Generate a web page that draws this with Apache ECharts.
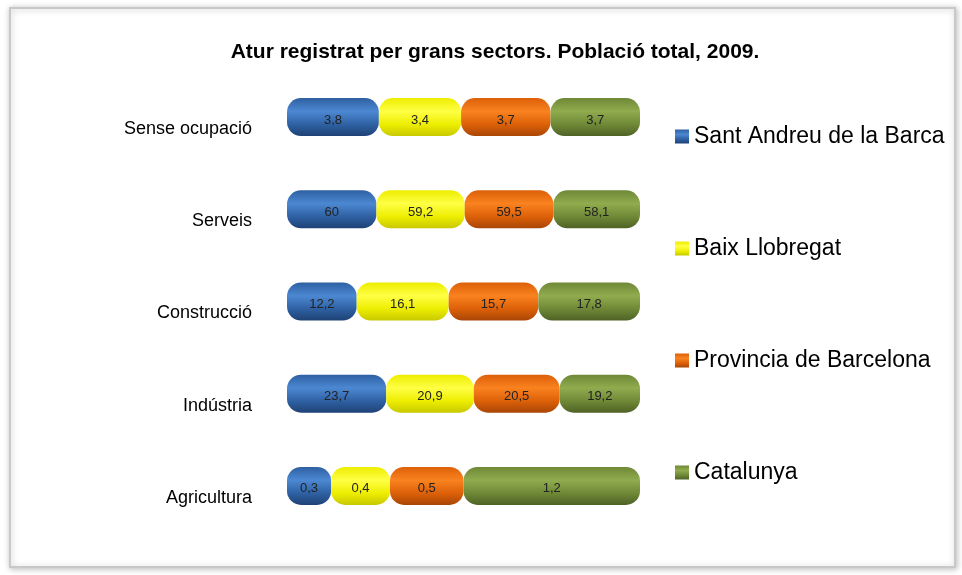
<!DOCTYPE html>
<html>
<head>
<meta charset="utf-8">
<title>Atur registrat per grans sectors</title>
<script src="https://cdn.jsdelivr.net/npm/echarts@6/dist/echarts.min.js"></script>
<style>
  html, body { margin: 0; padding: 0; background: #ffffff; }
  #chart { width: 962px; height: 575px; }
</style>
</head>
<body>
<div id="chart"></div>
<script>
  // categories, bottom to top as drawn
  var sectors = ['Agricultura', 'Indústria', 'Construcció', 'Serveis', 'Sense ocupació']
  var zones = ['Sant Andreu de la Barca', 'Baix Llobregat', 'Provincia de Barcelona', 'Catalunya']

  // % of registered unemployment per sector (values as in the picture)
  var santAndreu = [0.3, 23.7, 12.2, 60, 3.8]
  var baixLlobregat = [0.4, 20.9, 16.1, 59.2, 3.4]
  var provincia = [0.5, 20.5, 15.7, 59.5, 3.7]
  var catalunya = [1.2, 19.2, 17.8, 58.1, 3.7]

  var allValues = [santAndreu, baixLlobregat, provincia, catalunya]

  // colours: [top, light band, bottom]
  var shades = [
    ['#2e60a2', '#4c88d2', '#1f4275'],
    ['#eded00', '#ffff45', '#c8c800'],
    ['#dc6008', '#fa821f', '#a84606'],
    ['#6e8836', '#90ac4e', '#4f6226']
  ]

  function cyl (c) {
    return new echarts.graphic.LinearGradient(0, 0, 0, 1, [
      { offset: 0, color: c[0] },
      { offset: 0.35, color: c[1] },
      { offset: 0.7, color: c[0] },
      { offset: 1, color: c[2] }
    ])
  }

  // total per sector, bars are stacked to 100%
  var totals = sectors.map(function (s, i) {
    var t = 0
    allValues.forEach(function (arr) { t += arr[i] })
    return t
  })

  var series = zones.map(function (name, k) {
    return {
      name: name,
      type: 'bar',
      stack: 'total',
      barWidth: 38,
      data: allValues[k].map(function (v, i) {
        return { value: v / totals[i] * 100, raw: v }
      }),
      itemStyle: {
        color: cyl(shades[k]),
        borderRadius: 14
      },
      label: {
        show: true,
        position: 'inside',
        offset: [0, 3],
        color: '#222',
        fontFamily: 'Liberation Sans',
        fontSize: 13,
        formatter: function (p) {
          return String(p.data.raw).replace('.', ',')
        }
      }
    }
  })

  var chart = echarts.init(document.getElementById('chart'))
  chart.setOption({
    backgroundColor: '#ffffff',
    color: shades.map(function (c) { return c[0] }),
    animation: false,
    graphic: [{
      type: 'rect',
      z: -10,
      shape: { x: 10, y: 8, width: 945, height: 559 },
      style: {
        fill: '#fff',
        stroke: '#c8c8c8',
        lineWidth: 2,
        shadowBlur: 6,
        shadowColor: 'rgba(0,0,0,0.25)',
        shadowOffsetX: 1,
        shadowOffsetY: 1
      }
    }],
    title: {
      text: 'Atur registrat per grans sectors. Població total, 2009.',
      left: 490,
      textAlign: 'center',
      top: 37,
      textStyle: {
        fontFamily: 'Liberation Sans',
        fontSize: 21,
        fontWeight: 'bold',
        color: '#000'
      }
    },
    legend: {
      orient: 'vertical',
      left: 670,
      top: 120,
      itemWidth: 14,
      itemHeight: 14,
      itemGap: 89,
      icon: 'rect',
      textStyle: {
        fontFamily: 'Liberation Sans',
        fontSize: 23,
        color: '#000'
      },
      data: zones
    },
    grid: {
      left: 287,
      right: 322,
      top: 71,
      bottom: 43
    },
    xAxis: {
      type: 'value',
      min: 0,
      max: 100,
      show: false
    },
    yAxis: {
      type: 'category',
      data: sectors,
      axisLine: { show: false },
      axisTick: { show: false },
      axisLabel: {
        margin: 35,
        fontFamily: 'Liberation Sans',
        fontSize: 18,
        color: '#000',
        verticalAlign: 'top',
        lineHeight: 24
      }
    },
    series: series
  })
</script>
</body>
</html>
